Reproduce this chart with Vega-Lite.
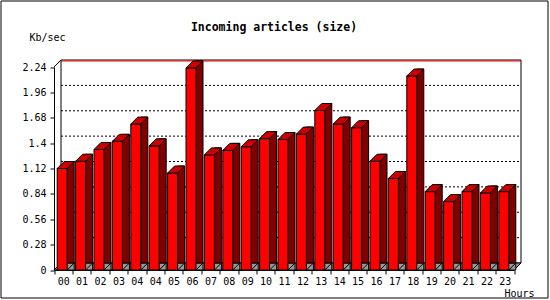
{
  "$schema": "https://vega.github.io/schema/vega-lite/v6.json",
  "width": 547,
  "height": 297,
  "autosize": {"type": "none"},
  "padding": {"left": 0.5, "top": 0.5, "right": 2.5, "bottom": 2.5},
  "background": "white",
  "config": {
    "view": {"stroke": "black", "strokeWidth": 1},
    "font": "DejaVu Sans Mono",
    "axisY": {"labelOverlap": false, "grid": false, "tickCount": 20}
  },
  "title": {"text": "Incoming articles (size)", "font": "DejaVu Sans Mono", "fontSize": 11.5, "fontWeight": "bold", "color": "black", "anchor": "middle", "frame": "group", "offset": -42, "baseline": "alphabetic"},
  "datasets": {
    "bars": [
      {"hour": "00", "v": 1.12},
      {"hour": "01", "v": 1.2},
      {"hour": "02", "v": 1.33},
      {"hour": "03", "v": 1.42},
      {"hour": "04", "v": 1.61},
      {"hour": "04b", "v": 1.37},
      {"hour": "05", "v": 1.07},
      {"hour": "06", "v": 2.23},
      {"hour": "07", "v": 1.27},
      {"hour": "08", "v": 1.32},
      {"hour": "09", "v": 1.36},
      {"hour": "10", "v": 1.45},
      {"hour": "11", "v": 1.44},
      {"hour": "12", "v": 1.5},
      {"hour": "13", "v": 1.76},
      {"hour": "14", "v": 1.61},
      {"hour": "15", "v": 1.57},
      {"hour": "16", "v": 1.2},
      {"hour": "17", "v": 1.01},
      {"hour": "18", "v": 2.14},
      {"hour": "19", "v": 0.865},
      {"hour": "20", "v": 0.755},
      {"hour": "21", "v": 0.865},
      {"hour": "22", "v": 0.85},
      {"hour": "23", "v": 0.865}
    ],
    "grid": [{"v": 0.28}, {"v": 0.56}, {"v": 0.84}, {"v": 1.12}, {"v": 1.4}, {"v": 1.68}, {"v": 1.96}]
  },
  "resolve": {"scale": {"x": "independent"}},
  "layer": [
    {
      "data": {"values": [{}]},
      "mark": {"type": "rect", "fill": "white", "stroke": "black", "strokeWidth": 1, "opacity": 1, "xOffset": 7, "x2Offset": 7, "yOffset": -7, "y2Offset": -7},
      "encoding": {
        "x": {"datum": 0, "type": "quantitative", "scale": {"domain": [0, 1], "range": [53.5, 513.5]}, "axis": null},
        "x2": {"datum": 1},
        "y": {"datum": 2.24, "type": "quantitative", "scale": {"domain": [0, 2.24], "range": [269.5, 66.5], "nice": false, "zero": true},
          "axis": {"values": [0, 0.28, 0.56, 0.84, 1.12, 1.4, 1.68, 1.96, 2.24], "tickCount": 20, "offset": -53.5, "grid": false,
            "labelExpr": "toString(round(datum.value * 100) / 100)", "labelOverlap": false,
            "domainColor": "black", "tickColor": "black", "tickSize": 4, "labelPadding": 4,
            "labelFont": "DejaVu Sans Mono", "labelFontSize": 10, "labelColor": "black",
            "title": "Kb/sec", "titleAngle": 0, "titleX": -7, "titleY": 40, "titleAlign": "center", "titleBaseline": "alphabetic",
            "titleFont": "DejaVu Sans Mono", "titleFontSize": 10, "titleFontWeight": "normal", "titleColor": "black"}},
        "y2": {"datum": 0}
      }
    },
    {
      "data": {"values": [{}]},
      "mark": {"type": "rule", "color": "red", "strokeWidth": 1, "xOffset": 7, "x2Offset": 7, "yOffset": -6},
      "encoding": {
        "x": {"datum": 0, "type": "quantitative", "scale": {"domain": [0, 1], "range": [53.5, 513.5]}, "axis": null},
        "x2": {"datum": 1},
        "y": {"datum": 2.24, "type": "quantitative"}
      }
    },
    {
      "data": {"name": "grid"},
      "mark": {"type": "rule", "color": "black", "strokeWidth": 1, "strokeDash": [2, 2], "xOffset": 7, "x2Offset": 7, "yOffset": -7},
      "encoding": {
        "x": {"datum": 0, "type": "quantitative", "scale": {"domain": [0, 1], "range": [53.5, 513.5]}, "axis": null},
        "x2": {"datum": 1},
        "y": {"field": "v", "type": "quantitative"}
      }
    },
    {
      "data": {"values": [{}]},
      "mark": {"type": "point", "shape": "M 0 0 L 460 0 L 467 -7 L 7 -7 Z", "size": 4, "filled": true, "fill": "#999999", "stroke": "black", "strokeWidth": 1, "opacity": 1},
      "encoding": {
        "x": {"datum": 0, "type": "quantitative", "scale": {"domain": [0, 1], "range": [53.5, 513.5]}, "axis": null},
        "y": {"datum": 0, "type": "quantitative"}
      }
    },
    {
      "data": {"values": [{}]},
      "mark": {"type": "point", "shape": "M 0 0 L 7 -7", "size": 4, "filled": false, "stroke": "black", "strokeWidth": 1, "opacity": 1},
      "encoding": {
        "x": {"datum": 0, "type": "quantitative", "scale": {"domain": [0, 1], "range": [53.5, 513.5]}, "axis": null},
        "y": {"datum": 2.24, "type": "quantitative"}
      }
    },
    {
      "data": {"name": "bars"},
      "mark": {"type": "bar", "width": 7, "xOffset": 7.5, "yOffset": -7, "fill": "#800000", "stroke": "black", "strokeWidth": 1, "opacity": 1},
      "encoding": {
        "x": {"field": "hour", "type": "nominal", "sort": null, "scale": {"type": "band", "range": [53.5, 513.5], "paddingInner": 0, "paddingOuter": 0}, "axis": null},
        "y": {"field": "v", "type": "quantitative"}
      }
    },
    {
      "data": {"name": "bars"},
      "mark": {"type": "point", "shape": "M 4 0 L 11 -7 L 11 0 Z", "size": 4, "filled": true, "fill": "#999999", "stroke": "black", "strokeWidth": 1, "opacity": 1},
      "encoding": {
        "x": {"field": "hour", "type": "nominal", "sort": null, "scale": {"type": "band", "range": [53.5, 513.5], "paddingInner": 0, "paddingOuter": 0}, "axis": null},
        "y": {"datum": 0, "type": "quantitative"}
      }
    },
    {
      "data": {"name": "bars"},
      "mark": {"type": "bar", "width": 10, "xOffset": -1, "fill": "#ff0000", "stroke": "black", "strokeWidth": 1, "opacity": 1},
      "encoding": {
        "x": {"field": "hour", "type": "nominal", "sort": null, "scale": {"type": "band", "range": [53.5, 513.5], "paddingInner": 0, "paddingOuter": 0},
          "axis": {"tickBand": "extent", "tickSize": 4, "labelPadding": 2, "labelAngle": 0, "labelExpr": "replace(datum.label, 'b', '')", "offset": -27.5,
            "domainColor": "black", "tickColor": "black", "labelFont": "DejaVu Sans Mono", "labelFontSize": 10, "labelColor": "black", "labelOverlap": false,
            "title": "Hours", "titleX": 518.5, "titleY": 26, "titleAlign": "center", "titleBaseline": "alphabetic",
            "titleFont": "DejaVu Sans Mono", "titleFontSize": 10, "titleFontWeight": "normal", "titleColor": "black"}},
        "y": {"field": "v", "type": "quantitative"}
      }
    },
    {
      "data": {"name": "bars"},
      "mark": {"type": "point", "shape": "M -6 0 L 4 0 L 11 -7 L 1 -7 Z", "size": 4, "filled": true, "fill": "#cc0000", "stroke": "black", "strokeWidth": 1, "opacity": 1},
      "encoding": {
        "x": {"field": "hour", "type": "nominal", "sort": null, "scale": {"type": "band", "range": [53.5, 513.5], "paddingInner": 0, "paddingOuter": 0}, "axis": null},
        "y": {"field": "v", "type": "quantitative"}
      }
    }
  ]
}
